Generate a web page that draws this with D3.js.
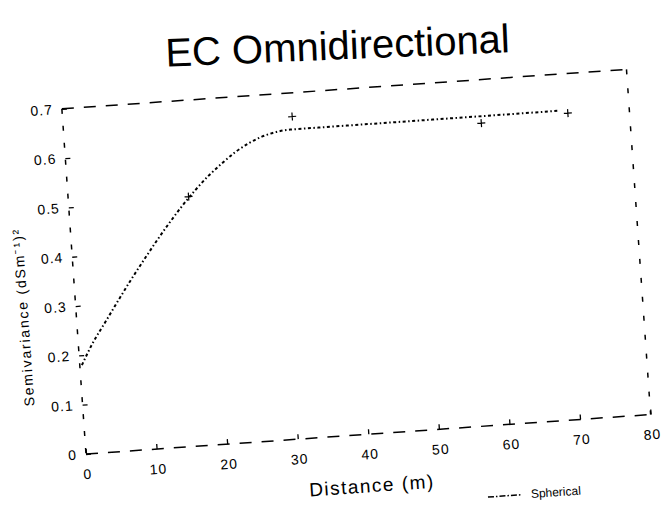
<!DOCTYPE html>
<html>
<head>
<meta charset="utf-8">
<script src="https://cdn.jsdelivr.net/npm/d3@7"></script>
<style>
  body { margin: 0; background: #fff; }
  svg { display: block; font-family: "Liberation Sans", Arial, sans-serif; }
</style>
</head>
<body>
<div id="chart"></div>
<script>
// semivariogram readings (distance in m, semivariance)
var distance = [0.3, 2, 4, 6, 8, 10, 12, 14, 16, 18, 20, 22, 24, 26, 28, 30, 32, 36, 40, 45, 50, 55, 60, 65, 70];
var semivar  = [0.18, 0.222, 0.263, 0.304, 0.344, 0.382, 0.419, 0.454, 0.487, 0.517, 0.544, 0.567, 0.588, 0.604, 0.616, 0.623, 0.626, 0.626, 0.626, 0.626, 0.626, 0.626, 0.626, 0.626, 0.626];

// a few "+" marks visible on the plot
var markDist = [17, 32.4, 59, 71.3];
var markVal  = [0.505, 0.652, 0.612, 0.62];

var xTicks = [0, 10, 20, 30, 40, 50, 60, 70, 80];
var xTickLabels = ["0", "10", "20", "30", "40", "50", "60", "70", "80"];
var yTicks = [0, 0.1, 0.2, 0.3, 0.4, 0.5, 0.6, 0.7];
var yTickLabels = ["0", "0.1", "0.2", "0.3", "0.4", "0.5", "0.6", "0.7"];

var W = 664, H = 506;
var width = 566, height = 346;

var svg = d3.select('#chart')
  .append('svg')
    .attr('width', W)
    .attr('height', H);

svg.append('rect').attr('width', W).attr('height', H).attr('fill', '#fff');

// the scanned page sits a little tilted
var g = svg.append('g')
  .attr('transform', 'translate(86,454) rotate(-4) translate(0,' + (-height) + ')');

var x = d3.scaleLinear().domain([0, 80]).range([0, width]);
var y = d3.scaleLinear().domain([0, 0.7]).range([height, 0]);

// dashed frame
var frame = [
  {x1: 0, y1: height, x2: width, y2: height, dash: '12,10'},
  {x1: 0, y1: 0, x2: width, y2: 0, dash: '12,10'},
  {x1: 0, y1: 0, x2: 0, y2: height, dash: '5,12'},
  {x1: width, y1: 0, x2: width, y2: height, dash: '5,14'}
];
g.selectAll('.frame')
  .data(frame)
  .enter()
  .append('line')
    .attr('x1', function(d) { return d.x1; })
    .attr('y1', function(d) { return d.y1; })
    .attr('x2', function(d) { return d.x2; })
    .attr('y2', function(d) { return d.y2; })
    .attr('stroke', '#000')
    .attr('stroke-width', 1.5)
    .attr('stroke-dasharray', function(d) { return d.dash; });

// axes
var xAxis = g.append('g')
  .attr('transform', 'translate(0,' + height + ')')
  .call(d3.axisBottom(x)
    .tickValues(xTicks)
    .tickFormat(function(d, i) { return xTickLabels[i]; })
    .tickSize(-5)
    .tickSizeOuter(0)
    .tickPadding(15));

var yAxis = g.append('g')
  .call(d3.axisLeft(y)
    .tickValues(yTicks)
    .tickFormat(function(d, i) { return yTickLabels[i]; })
    .tickSize(-5)
    .tickSizeOuter(0)
    .tickPadding(9));

[xAxis, yAxis].forEach(function(a) {
  a.select('.domain').remove();
  a.selectAll('line').attr('stroke', '#000').attr('stroke-width', 1.3);
  a.selectAll('text')
    .attr('fill', '#000')
    .attr('font-size', '14px')
    .attr('letter-spacing', '1px')
    .attr('font-family', '"Liberation Sans", Arial, sans-serif');
});

// model curve
var pts = distance.map(function(d, i) { return [d, semivar[i]]; });
var line = d3.line()
  .x(function(d) { return x(d[0]); })
  .y(function(d) { return y(d[1]); })
  .curve(d3.curveMonotoneX);

g.append('path')
  .datum(pts)
  .attr('d', line)
  .attr('fill', 'none')
  .attr('stroke', '#000')
  .attr('stroke-width', 2)
  .attr('stroke-dasharray', '3,2.5,1.5,2.5');

// plus marks
var marks = markDist.map(function(d, i) { return [d, markVal[i]]; });
g.selectAll('.mark')
  .data(marks)
  .enter()
  .append('path')
    .attr('transform', function(d) { return 'translate(' + x(d[0]) + ',' + y(d[1]) + ')'; })
    .attr('d', 'M-4,0H4M0,-4V4')
    .attr('stroke', '#000')
    .attr('stroke-width', 1.2);

// title
g.append('text')
  .attr('transform', 'translate(' + (width / 2 - 4) + ',-30) rotate(1.6)')
  .attr('text-anchor', 'middle')
  .attr('font-size', '40px')
  .attr('fill', '#000')
  .text('EC Omnidirectional');

// axis titles
g.append('text')
  .attr('x', x(40))
  .attr('y', height + 58)
  .attr('text-anchor', 'middle')
  .attr('font-size', '19px')
  .attr('letter-spacing', '1.5px')
  .attr('fill', '#000')
  .text('Distance (m)');

g.append('text')
  .attr('transform', 'translate(-48,' + y(0.285) + ') rotate(-90)')
  .attr('text-anchor', 'middle')
  .attr('font-size', '14px')
  .attr('letter-spacing', '1.8px')
  .attr('fill', '#000')
  .text('Semivariance (dSm\u207B\u00B9)\u00B2');

// legend at the bottom edge of the scan
g.append('line')
  .attr('x1', 398).attr('x2', 432)
  .attr('y1', height + 71).attr('y2', height + 71)
  .attr('stroke', '#000')
  .attr('stroke-width', 1.5)
  .attr('stroke-dasharray', '6,2,1.5,2');

g.append('text')
  .attr('x', 441)
  .attr('y', height + 75)
  .attr('font-size', '12px')
  .attr('fill', '#000')
  .text('Spherical');
</script>
</body>
</html>
